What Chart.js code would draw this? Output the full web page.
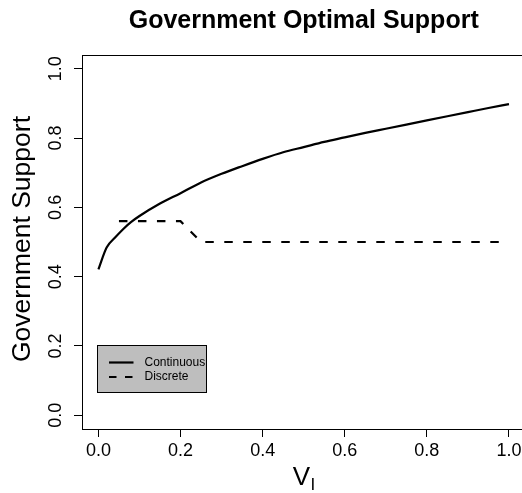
<!DOCTYPE html>
<html lang="en">
<head>
<meta charset="UTF-8">
<title>Government Optimal Support</title>
<script src="https://cdn.jsdelivr.net/npm/chart.js@4.4.1/dist/chart.umd.min.js"></script>
<style>
    html, body {
        margin: 0;
        padding: 0;
        overflow: hidden;
        background: #fff;
    }
    canvas { display: block; }
</style>
</head>
<body>
<canvas id="chart" width="530" height="493"></canvas>
<script>
    // continuous optimum
    const contX = [0, 0.02, 0.04, 0.06, 0.08, 0.1, 0.15, 0.2, 0.25, 0.3, 0.35, 0.4, 0.45, 0.5, 0.55, 0.6, 0.65, 0.7, 0.75, 0.8, 0.85, 0.9, 0.95, 1.0];
    const contY = [0.421, 0.484, 0.512, 0.537, 0.558, 0.575, 0.611, 0.641, 0.672, 0.697, 0.719, 0.740, 0.759, 0.774, 0.789, 0.802, 0.815, 0.827, 0.839, 0.851, 0.863, 0.875, 0.887, 0.898];
    // discrete optimum
    const discX = [0.05, 0.1, 0.15, 0.2, 0.25, 0.3, 0.35, 0.4, 0.45, 0.5, 0.55, 0.6, 0.65, 0.7, 0.75, 0.8, 0.85, 0.9, 0.95, 1.0];
    const discY = [0.56, 0.56, 0.56, 0.56, 0.5, 0.5, 0.5, 0.5, 0.5, 0.5, 0.5, 0.5, 0.5, 0.5, 0.5, 0.5, 0.5, 0.5, 0.5, 0.5];

    const xTicks = [0, 0.2, 0.4, 0.6, 0.8, 1.0];
    const yTicks = [0, 0.2, 0.4, 0.6, 0.8, 1.0];
    const tickLabels = ['0.0', '0.2', '0.4', '0.6', '0.8', '1.0'];
    const seriesNames = ['Continuous', 'Discrete'];

    const FONT = "'Liberation Sans', Arial, Helvetica, sans-serif";
    const DASH = [8.5, 10.5];

    function toPoints(xs, ys) {
        return xs.map((x, i) => ({ x: x, y: ys[i] }));
    }

    // R-style box, rotated y labels, subscript x label and legend
    const rPlot = {
        id: 'rPlot',
        afterDraw(chart) {
            const ctx = chart.ctx;
            const a = chart.chartArea;
            const ys = chart.scales.y;
            ctx.save();
            ctx.strokeStyle = '#000';
            ctx.fillStyle = '#000';
            ctx.lineWidth = 1;
            ctx.strokeRect(Math.round(a.left) + 0.5, Math.round(a.top) + 0.5,
                Math.round(a.right - a.left), Math.round(a.bottom - a.top));

            // y tick labels, parallel to the axis
            ctx.font = '18px ' + FONT;
            ctx.textAlign = 'center';
            ctx.textBaseline = 'middle';
            yTicks.forEach((v, i) => {
                ctx.save();
                ctx.translate(56, ys.getPixelForValue(v));
                ctx.rotate(-Math.PI / 2);
                ctx.fillText(tickLabels[i], 0, 0);
                ctx.restore();
            });

            // y title
            ctx.save();
            ctx.font = '26.5px ' + FONT;
            ctx.translate(23, (a.top + a.bottom) / 2 - 3);
            ctx.rotate(-Math.PI / 2);
            ctx.fillText('Government Support', 0, 0);
            ctx.restore();

            // x title V with subscript I
            ctx.textAlign = 'left';
            ctx.textBaseline = 'alphabetic';
            ctx.font = '26px ' + FONT;
            const wV = ctx.measureText('V').width;
            ctx.font = '17px ' + FONT;
            const wI = ctx.measureText('I').width;
            const x0 = (a.left + a.right) / 2 - (wV + wI) / 2;
            ctx.font = '26px ' + FONT;
            ctx.fillText('V', x0, 485);
            ctx.font = '17px ' + FONT;
            ctx.fillText('I', x0 + wV + 0.5, 490);

            // legend
            const lx = Math.round(a.left) + 15.5;
            const ly = Math.round(a.bottom) - 83.5;
            ctx.fillStyle = '#bebebe';
            ctx.fillRect(lx, ly, 109, 47);
            ctx.strokeRect(lx, ly, 109, 47);
            ctx.font = '12px ' + FONT;
            ctx.textBaseline = 'middle';
            ctx.lineWidth = 2.2;
            const rows = [ly + 17, ly + 31.5];
            rows.forEach((ry, i) => {
                ctx.setLineDash(i === 0 ? [] : [7.5, 8.5]);
                ctx.beginPath();
                ctx.moveTo(lx + 11.5, ry);
                ctx.lineTo(lx + 36, ry);
                ctx.stroke();
                ctx.fillStyle = '#000';
                ctx.fillText(seriesNames[i], lx + 47, ry);
            });
            ctx.restore();
        }
    };

    new Chart(document.getElementById('chart'), {
        type: 'line',
        data: {
            datasets: [{
                label: seriesNames[0],
                data: toPoints(contX, contY),
                borderColor: '#000',
                borderWidth: 2.2,
                pointRadius: 0,
                cubicInterpolationMode: 'monotone',
                fill: false
            }, {
                label: seriesNames[1],
                data: toPoints(discX, discY),
                borderColor: '#000',
                borderWidth: 2.2,
                borderDash: DASH,
                pointRadius: 0,
                tension: 0,
                fill: false
            }]
        },
        options: {
            responsive: false,
            animation: false,
            layout: { padding: { left: 0, right: 4.6, top: 0, bottom: 0 } },
            plugins: {
                legend: { display: false },
                tooltip: { enabled: false },
                title: {
                    display: true,
                    text: 'Government Optimal Support',
                    fullSize: false,
                    color: '#000',
                    font: { family: FONT, size: 25, weight: 'bold', lineHeight: 1.2 },
                    padding: { top: 6, bottom: 19 }
                }
            },
            scales: {
                x: {
                    type: 'linear',
                    min: -0.04,
                    max: 1.04,
                    afterBuildTicks: s => { s.ticks = xTicks.map(v => ({ value: v })); },
                    afterFit: s => { s.height = 64; },
                    grid: { drawOnChartArea: false, drawTicks: true, tickLength: 8, color: '#000', lineWidth: 1 },
                    border: { display: false },
                    ticks: {
                        color: '#000',
                        font: { family: FONT, size: 18 },
                        padding: 3,
                        maxRotation: 0,
                        autoSkip: false,
                        callback: v => tickLabels[xTicks.indexOf(v)]
                    }
                },
                y: {
                    type: 'linear',
                    min: -0.04,
                    max: 1.04,
                    afterBuildTicks: s => { s.ticks = yTicks.map(v => ({ value: v })); },
                    afterFit: s => { s.width = 82; },
                    grid: { drawOnChartArea: false, drawTicks: true, tickLength: 8, color: '#000', lineWidth: 1 },
                    border: { display: false },
                    ticks: { display: false }
                }
            }
        },
        plugins: [rPlot]
    });
</script>
</body>
</html>
